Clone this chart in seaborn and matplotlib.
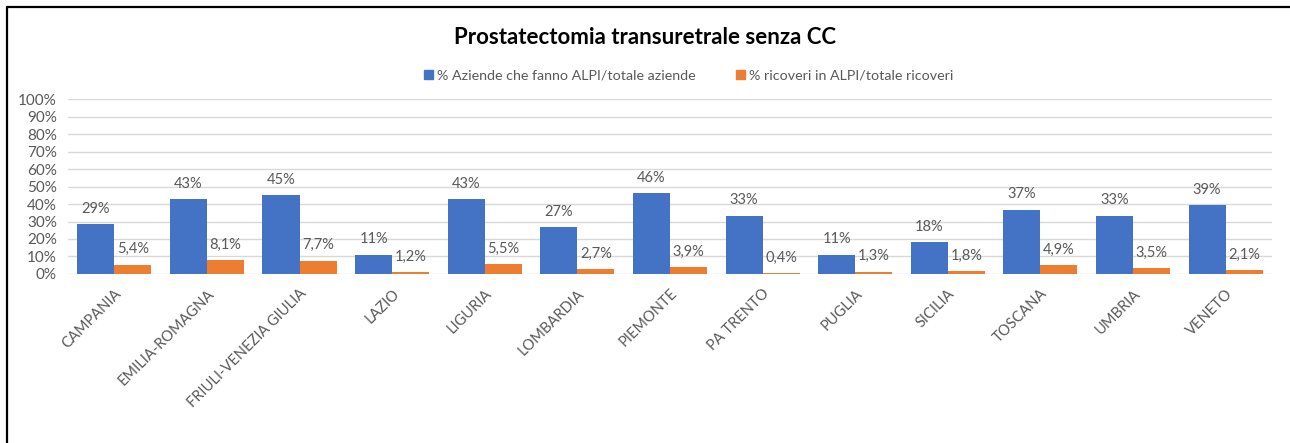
import matplotlib
matplotlib.use("Agg")
import matplotlib.pyplot as plt
import matplotlib.patches as mpatches
from matplotlib.lines import Line2D
import pandas as pd
import seaborn as sns

regioni = ["CAMPANIA", "EMILIA-ROMAGNA", "FRIULI-VENEZIA GIULIA", "LAZIO", "LIGURIA",
           "LOMBARDIA", "PIEMONTE", "PA TRENTO", "PUGLIA", "SICILIA", "TOSCANA",
           "UMBRIA", "VENETO"]
aziende_pct = [28.6, 42.9, 45.2, 11.1, 42.9, 26.7, 46.2, 33.3, 11.1, 18.2, 36.8, 33.3, 39.4]
ricoveri_pct = [5.4, 8.1, 7.7, 1.2, 5.5, 2.7, 3.9, 0.4, 1.3, 1.8, 4.9, 3.5, 2.1]
serie = ["% Aziende che fanno ALPI/totale aziende", "% ricoveri in ALPI/totale ricoveri"]
y_ticks = [0, 10, 20, 30, 40, 50, 60, 70, 80, 90, 100]
titolo = "Prostatectomia transuretrale senza CC"

colori = ["#4472C4", "#ED7D31"]
grigio = "#595959"

df = pd.concat([
    pd.DataFrame({"regione": regioni, "serie": serie[0], "valore": aziende_pct}),
    pd.DataFrame({"regione": regioni, "serie": serie[1], "valore": ricoveri_pct}),
])

sns.set_theme(style="white")
plt.rcParams["font.family"] = ["Lato", "DejaVu Sans"]

fig = plt.figure(figsize=(12.9, 4.43), dpi=100)
ax = fig.add_axes([0.0527, 0.3815, 0.9333, 0.395])

sns.barplot(data=df, x="regione", y="valore", hue="serie", order=regioni,
            hue_order=serie, palette=colori, width=0.8, saturation=1,
            edgecolor="none", linewidth=0, ax=ax, legend=False)

ax.set_ylim(0, 100)
ax.set_xlim(-0.5, len(regioni) - 0.5)
ax.set_yticks(y_ticks)
ax.set_yticklabels([f"{t}%" for t in y_ticks], color=grigio, fontsize=11)
ax.yaxis.grid(True, color="#D9D9D9", linewidth=1)
ax.set_axisbelow(True)
for s in ax.spines.values():
    s.set_visible(False)
ax.tick_params(axis="y", length=0, pad=8)
ax.tick_params(axis="x", length=0, pad=9)
ax.set_xlabel("")
ax.set_ylabel("")
ax.set_xticks(range(len(regioni)))
ax.set_xticklabels(regioni, rotation=45, ha="right", rotation_mode="anchor",
                   color=grigio, fontsize=10.5)

# value labels on each series
fmt_aziende = [f"{v:.0f}%" for v in aziende_pct]
fmt_ricoveri = [f"{v:.1f}%".replace(".", ",") for v in ricoveri_pct]
ax.bar_label(ax.containers[0], labels=fmt_aziende, padding=6, color=grigio, fontsize=10.5)
ax.bar_label(ax.containers[1], labels=fmt_ricoveri, padding=6, color=grigio, fontsize=10.5)

fig.text(0.5, 0.915, titolo, ha="center", va="center", fontsize=16,
         fontweight="bold", color="black")

handles = [mpatches.Patch(color=c, label=l) for c, l in zip(colori, serie)]
leg = fig.legend(handles=handles, loc="center", bbox_to_anchor=(0.534, 0.83), ncol=2,
                 frameon=False, fontsize=10.3, handlelength=0.6, handleheight=0.6,
                 handletextpad=0.3, columnspacing=2.8)
for t in leg.get_texts():
    t.set_color(grigio)

# frame lines on the left and top edges
fig.lines.append(Line2D([0.0055, 0.0055], [0.0, 0.984], transform=fig.transFigure,
                        color="black", linewidth=1.6))
fig.lines.append(Line2D([0.0055, 1.0], [0.984, 0.984], transform=fig.transFigure,
                        color="black", linewidth=1.6))

fig.savefig("out.png", dpi=100, facecolor="white")
